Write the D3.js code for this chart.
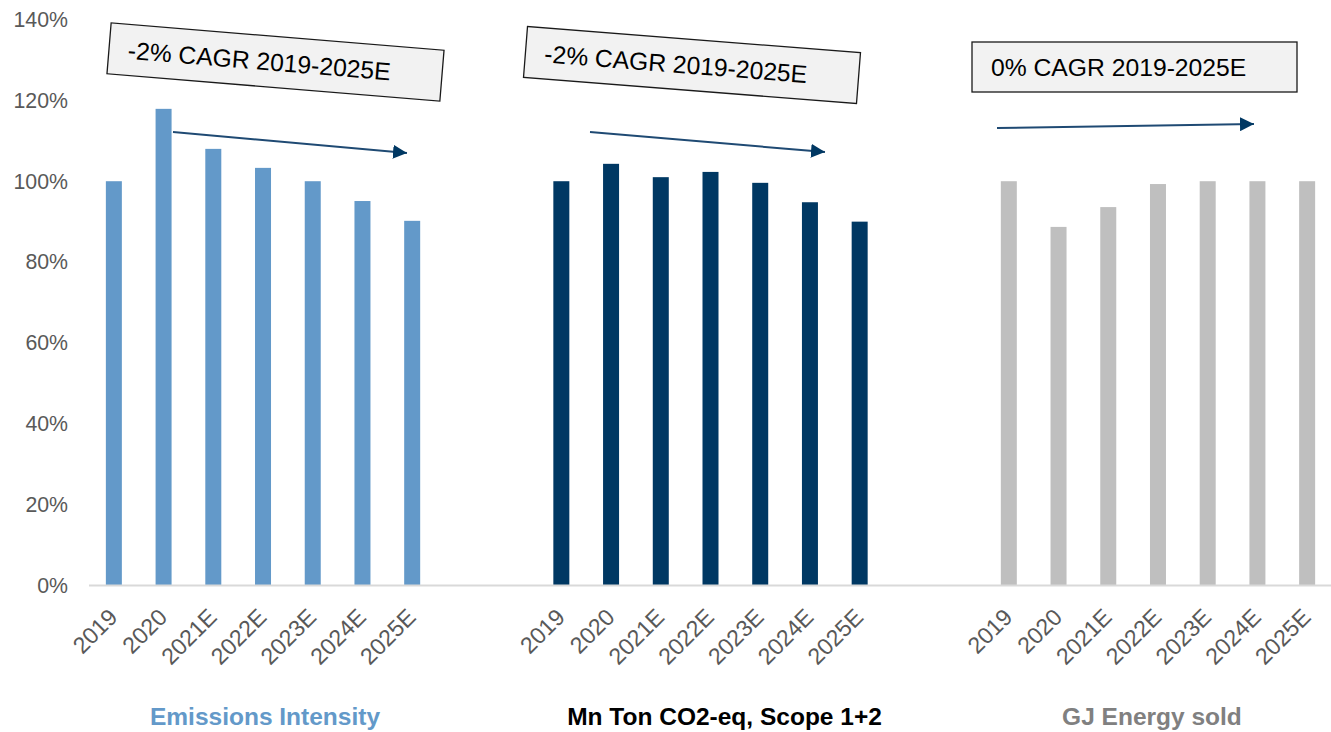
<!DOCTYPE html>
<html>
<head>
<meta charset="utf-8">
<script src="https://cdn.jsdelivr.net/npm/d3@7"></script>
<style>
  html, body { margin: 0; padding: 0; background: #ffffff; }
  svg { display: block; font-family: "Liberation Sans", Arial, sans-serif; }
</style>
</head>
<body>
<svg id="chart" width="1331" height="732"></svg>
<script>
// Years shown under each panel
const years = ["2019", "2020", "2021E", "2022E", "2023E", "2024E", "2025E"];

// Panel names (indexed to 2019 = 100%)
const groups = ["Emissions Intensity", "Mn Ton CO2-eq, Scope 1+2", "GJ Energy sold"];

// Indexed values, % of 2019
const emissionsIntensity = [100, 117.9, 108.0, 103.3, 100, 95.1, 90.2];
const co2Scope12 = [100, 104.3, 101.0, 102.3, 99.6, 94.8, 90.0];
const energySold = [100, 88.7, 93.6, 99.3, 100, 100, 100];

// CAGR callouts
const cagrLabels = ["-2% CAGR 2019-2025E", "-2% CAGR 2019-2025E", "0% CAGR 2019-2025E"];

// Y axis ticks
const yTicks = [0, 20, 40, 60, 80, 100, 120, 140];

const seriesValues = [emissionsIntensity, co2Scope12, energySold];
const barColors = ["#6399c9", "#003863", "#bfbfbf"];
const titleColors = ["#6399c9", "#000000", "#808080"];

const svg = d3.select("#chart");

const plotLeft = 89, plotRight = 1332, plotTop = 19.5, plotBottom = 585.5;

// Each panel spans 7 slots with a 2-slot gap between panels
const x0 = d3.scaleBand().domain(groups).range([plotLeft, plotRight])
  .paddingInner(2 / 9).paddingOuter(0);
const slot = x0.bandwidth() / years.length;
const barW = 16;
const pIn = 1 - barW / slot;
const x1 = d3.scaleBand().domain(years).range([0, x0.bandwidth()])
  .paddingInner(pIn).paddingOuter(pIn / 2);

const y = d3.scaleLinear().domain([0, 140]).range([plotBottom, plotTop]);

// Y axis: labels only
const yAxis = d3.axisLeft(y).tickValues(yTicks).tickFormat(d => d + "%").tickSize(0).tickPadding(0);
const yg = svg.append("g").attr("transform", "translate(68,0)").call(yAxis);
yg.select(".domain").remove();
yg.selectAll("text")
  .attr("fill", "#595959")
  .attr("font-size", 21.3)
  .attr("font-family", "Liberation Sans, Arial, sans-serif");

// Bars
groups.forEach((g, gi) => {
  const gx = x0(g);
  const data = years.map((yr, i) => ({ yr, v: seriesValues[gi][i] }));
  const panel = svg.append("g").attr("transform", `translate(${gx},0)`);
  panel.selectAll("rect")
    .data(data)
    .join("rect")
    .attr("x", d => x1(d.yr))
    .attr("y", d => y(d.v))
    .attr("width", x1.bandwidth())
    .attr("height", d => y(0) - y(d.v))
    .attr("fill", barColors[gi]);

  // Category labels, rotated
  const xAxis = d3.axisBottom(x1).tickSize(0).tickPadding(0);
  const xg = panel.append("g").attr("transform", `translate(0,${plotBottom})`).call(xAxis);
  xg.select(".domain").remove();
  xg.selectAll("text")
    .attr("fill", "#595959")
    .attr("font-size", 23.2)
    .attr("font-family", "Liberation Sans, Arial, sans-serif")
    .attr("text-anchor", "end")
    .attr("y", 0)
    .attr("dy", 0)
    .attr("transform", "translate(5,33) rotate(-45)");

  // Panel title
  const titleOffsets = [2, 14, -6];
  svg.append("text")
    .attr("x", gx + x0.bandwidth() / 2 + titleOffsets[gi])
    .attr("y", 725)
    .attr("text-anchor", "middle")
    .attr("font-size", 24.5)
    .attr("font-weight", "bold")
    .attr("fill", titleColors[gi])
    .text(g);
});

// Baseline
svg.append("line")
  .attr("x1", plotLeft).attr("x2", plotRight)
  .attr("y1", y(0)).attr("y2", y(0))
  .attr("stroke", "#d9d9d9").attr("stroke-width", 2);

// Arrowhead marker
svg.append("defs").append("marker")
  .attr("id", "arrowhead")
  .attr("viewBox", "0 0 14 14")
  .attr("refX", 14).attr("refY", 7)
  .attr("markerWidth", 14).attr("markerHeight", 14)
  .attr("markerUnits", "userSpaceOnUse")
  .attr("orient", "auto")
  .append("path")
  .attr("d", "M0,0 L14,7 L0,14 Z")
  .attr("fill", "#003863");

// Trend arrows
const arrows = [
  [[173, 132], [407, 153]],
  [[590, 132], [825, 152]],
  [[997, 128], [1254, 124]]
];
arrows.forEach(a => {
  svg.append("line")
    .attr("x1", a[0][0]).attr("y1", a[0][1])
    .attr("x2", a[1][0]).attr("y2", a[1][1])
    .attr("stroke", "#1f4a73")
    .attr("stroke-width", 2)
    .attr("marker-end", "url(#arrowhead)");
});

// CAGR callout boxes
const boxes = [
  { cx: 275.5, cy: 62, w: 334, h: 51, rot: 4.7 },
  { cx: 692, cy: 65, w: 334, h: 51, rot: 4.5 },
  { cx: 1134.5, cy: 67, w: 325, h: 50, rot: 0 }
];
boxes.forEach((b, i) => {
  const bg = svg.append("g")
    .attr("transform", `translate(${b.cx},${b.cy}) rotate(${b.rot})`);
  bg.append("rect")
    .attr("x", -b.w / 2).attr("y", -b.h / 2)
    .attr("width", b.w).attr("height", b.h)
    .attr("fill", "#f2f2f2")
    .attr("stroke", "#1a1a1a")
    .attr("stroke-width", 1.3);
  bg.append("text")
    .attr("x", -b.w / 2 + 19)
    .attr("y", 0)
    .attr("dy", "0.36em")
    .attr("font-size", 24.7)
    .attr("fill", "#000000")
    .text(cagrLabels[i]);
});
</script>
</body>
</html>
